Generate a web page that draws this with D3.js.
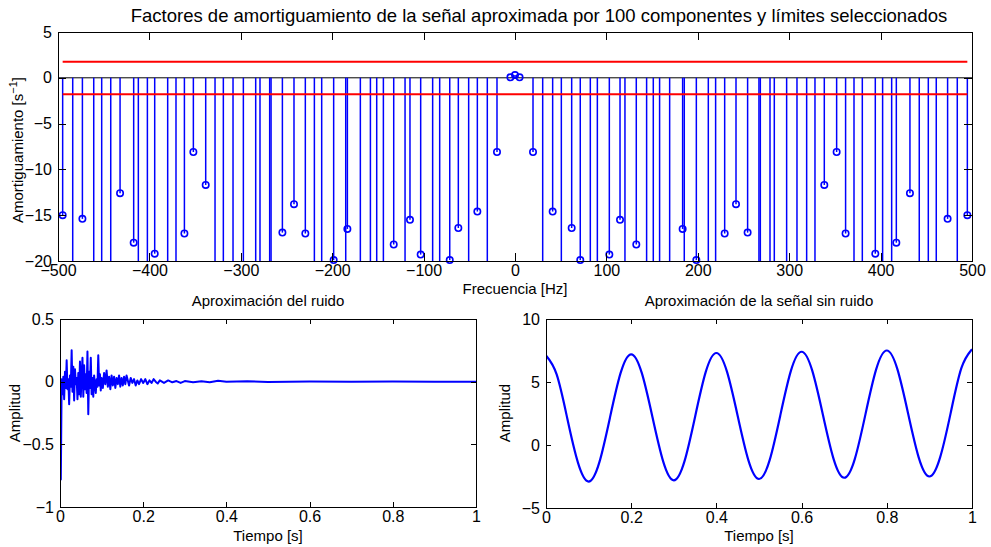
<!DOCTYPE html>
<html>
<head>
<meta charset="utf-8">
<style>
body { margin: 0; background: #fff; }
svg text { font-family: "Liberation Sans", Arial, sans-serif; fill: #000; }
</style>
</head>
<body>
<script src="https://cdn.jsdelivr.net/npm/d3@7"></script>
<svg id="fig" width="991" height="547"></svg>
<script>
// frequencies of the 99 components [Hz]
var freqs = [-494.9, -483.9, -473.3, -460.9, -452.2, -442.3, -432.1, -417.2, -412.1, -402.2,
  -394.2, -380.0, -370.9, -361.7, -351.9, -338.4, -328.2, -319.1, -308.5, -297.2,
  -283.7, -279.0, -268.4, -266.9, -254.5, -241.8, -229.4, -219.5, -211.5, -198.4,
  -185.2, -183.4, -169.2, -158.2, -151.3, -144.0, -132.7, -120.3, -114.9, -103.2,
  -90.1, -82.4, -71.4, -62.0, -50.7, -41.2, -30.3, -19.7, -5.0,
  0,
  5.0, 19.7, 30.3, 41.2, 50.7, 62.0, 71.4, 82.4, 90.1,
  103.2, 114.9, 120.3, 132.7, 144.0, 151.3, 158.2, 169.2, 183.4, 185.2,
  198.4, 211.5, 219.5, 229.4, 241.8, 254.5, 266.9, 268.4, 279.0, 283.7,
  297.2, 308.5, 319.1, 328.2, 338.4, 351.9, 361.7, 370.9, 380.0, 394.2,
  402.2, 412.1, 417.2, 432.1, 442.3, 452.2, 460.9, 473.3, 483.9, 494.9];
// damping factors [1/s]
var damps = [-15.0, -38, -15.4, -45, -31, -52, -12.6, -18.0, -36, -60,
  -19.2, -29, -47, -17.0, -8.1, -11.7, -33, -55, -41, -27,
  -62, -35, -44, -58, -16.9, -13.8, -17.0, -30, -49, -19.9,
  -37, -16.5, -26, -53, -40, -32, -18.2, -46, -15.5, -19.3,
  -34, -57, -19.9, -16.4, -43, -14.6, -28, -8.1, 0.05,
  0.3,
  0.05, -8.1, -28, -14.6, -43, -16.4, -19.9, -57, -34,
  -19.3, -15.5, -46, -18.2, -32, -40, -53, -26, -16.5, -37,
  -19.9, -49, -30, -17.0, -13.8, -16.9, -58, -44, -35, -62,
  -27, -41, -55, -33, -11.7, -8.1, -17.0, -47, -29, -19.2,
  -60, -36, -18.0, -12.6, -52, -31, -45, -15.4, -38, -15.0];
var limits = [1.75, -1.8];

var fTicks = [-500, -400, -300, -200, -100, 0, 100, 200, 300, 400, 500];
var dTicks = [-20, -15, -10, -5, 0, 5];
var tTicks = [0, 0.2, 0.4, 0.6, 0.8, 1];
var nTicks = [-1, -0.5, 0, 0.5];
var sTicks = [-5, 0, 5, 10];

// noise approximation (time [s], amplitude)
var noiseT = [0, 0.002, 0.004, 0.006, 0.008, 0.010, 0.012, 0.014, 0.016, 0.018,
  0.020, 0.022, 0.024, 0.026, 0.028, 0.030, 0.032, 0.034, 0.036, 0.038,
  0.040, 0.042, 0.044, 0.046, 0.048, 0.050, 0.052, 0.054, 0.056, 0.058,
  0.060, 0.062, 0.064, 0.066, 0.068, 0.070, 0.072, 0.074, 0.076, 0.078,
  0.080, 0.082, 0.084, 0.086, 0.088, 0.090, 0.092, 0.094, 0.096, 0.098,
  0.100, 0.103, 0.106, 0.109, 0.112, 0.115, 0.118, 0.121, 0.124, 0.127,
  0.130, 0.133, 0.136, 0.139, 0.142, 0.145, 0.148, 0.151, 0.154, 0.157,
  0.160, 0.163, 0.166, 0.170, 0.174, 0.178, 0.182, 0.186, 0.190, 0.195,
  0.200, 0.205, 0.210, 0.215, 0.220, 0.225, 0.230, 0.235, 0.240, 0.250,
  0.260, 0.270, 0.280, 0.290, 0.300, 0.320, 0.340, 0.360, 0.380, 0.400,
  0.450, 0.500, 0.600, 0.700, 0.800, 0.900, 1.000];
var noiseV = [0.03, -0.78, 0.02, -0.10, 0.04, -0.14, 0.08, -0.05, 0.17, -0.06,
  0.02, -0.18, 0.05, -0.04, 0.25, -0.08, 0.12, -0.15, 0.10, -0.02,
  0.03, -0.14, 0.07, -0.10, 0.16, -0.12, 0.05, 0.19, -0.12, 0.13,
  -0.06, 0.06, -0.09, 0.24, -0.26, 0.08, -0.05, 0.19, -0.10, 0.03,
  -0.12, 0.05, -0.03, -0.09, 0.02, -0.04, 0.21, -0.03, 0.06, -0.07,
  0.03, -0.05, 0.07, -0.02, 0.09, -0.04, 0.04, -0.06, 0.05, -0.03,
  0.04, -0.05, 0.03, -0.02, 0.05, -0.04, 0.03, -0.03, 0.04, -0.02,
  0.05, 0.01, -0.03, 0.03, -0.01, 0.02, -0.03, 0.01, -0.02, 0.02,
  -0.01, 0.02, -0.02, 0.01, -0.01, 0.02, 0.0, -0.015, 0.01, -0.01,
  0.01, -0.005, 0.005, -0.01, 0.005, -0.005, 0.003, -0.004, 0.008, 0.0,
  0.003, -0.002, 0.002, 0.0, 0.001, 0.0, 0.0];

// clean signal approximation, sampled every 0.025 s
var sigT = [0, 0.025, 0.05, 0.075, 0.1, 0.125, 0.15, 0.175, 0.2, 0.225,
  0.25, 0.275, 0.3, 0.325, 0.35, 0.375, 0.4, 0.425, 0.45, 0.475,
  0.5, 0.525, 0.55, 0.575, 0.6, 0.625, 0.65, 0.675, 0.7, 0.725,
  0.75, 0.775, 0.8, 0.825, 0.85, 0.875, 0.9, 0.925, 0.95, 0.975, 1.0];
var sigV = [7.1, 5.6, 2.1, -1.4, -2.9, -1.4, 2.15, 5.7, 7.2, 5.7,
  2.2, -1.3, -2.8, -1.3, 2.25, 5.8, 7.3, 5.8, 2.3, -1.2,
  -2.7, -1.2, 2.35, 5.9, 7.4, 5.9, 2.4, -1.1, -2.6, -1.1,
  2.45, 6.0, 7.5, 6.0, 2.5, -1.0, -2.5, -1.0, 2.55, 6.1, 7.6];

var svg = d3.select("#fig");
var fmt = d3.format("");
var blue = "#0000ff";

function frame(x, y, xt, yt, tl) {
  var g = svg.append("g");
  var xr = x.range(), yr = y.range();
  g.append("g").attr("transform", "translate(0," + yr[0] + ")")
    .call(d3.axisBottom(x).tickValues(xt).tickSize(-tl).tickSizeOuter(0).tickPadding(4).tickFormat(fmt));
  g.append("g").attr("transform", "translate(0," + yr[1] + ")")
    .call(d3.axisTop(x).tickValues(xt).tickSize(-tl).tickSizeOuter(0).tickFormat(""));
  g.append("g").attr("transform", "translate(" + xr[0] + ",0)")
    .call(d3.axisLeft(y).tickValues(yt).tickSize(-tl).tickSizeOuter(0).tickPadding(6).tickFormat(fmt));
  g.append("g").attr("transform", "translate(" + xr[1] + ",0)")
    .call(d3.axisRight(y).tickValues(yt).tickSize(-tl).tickSizeOuter(0).tickFormat(""));
  g.selectAll("text").style("font-size", "16px");
  g.selectAll("path, line").attr("stroke", "#000").attr("shape-rendering", "crispEdges");
  return g;
}

function clip(id, x, y) {
  svg.append("clipPath").attr("id", id).append("rect")
    .attr("x", x.range()[0]).attr("y", y.range()[1])
    .attr("width", x.range()[1] - x.range()[0])
    .attr("height", y.range()[0] - y.range()[1]);
}

// ---- top: damping factors (stem plot)
var xF = d3.scaleLinear().domain([-500, 500]).range([58, 972]);
var yF = d3.scaleLinear().domain([-20, 5]).range([261, 32]);
clip("cTop", xF, yF);

var stems = svg.append("g").attr("clip-path", "url(#cTop)");
stems.append("line")
  .attr("x1", xF.range()[0]).attr("x2", xF.range()[1])
  .attr("y1", yF(0)).attr("y2", yF(0))
  .attr("stroke", "#000").attr("stroke-width", 1);
stems.selectAll("line.stem").data(freqs).enter().append("line")
  .attr("class", "stem")
  .attr("x1", function(d) { return xF(d); }).attr("x2", function(d) { return xF(d); })
  .attr("y1", yF(0)).attr("y2", function(d, i) { return yF(damps[i]); })
  .attr("stroke", blue).attr("stroke-width", 1.5);

var idx = d3.range(freqs.length).filter(function(i) { return damps[i] >= -20; });
svg.append("g").selectAll("circle").data(idx).enter().append("circle")
  .attr("cx", function(i) { return xF(freqs[i]); })
  .attr("cy", function(i) { return yF(damps[i]); })
  .attr("r", 3.2)
  .attr("fill", "none").attr("stroke", blue).attr("stroke-width", 1.6);

svg.append("g").selectAll("line").data(limits).enter().append("line")
  .attr("x1", xF(d3.min(freqs))).attr("x2", xF(d3.max(freqs)))
  .attr("y1", function(d) { return yF(d); }).attr("y2", function(d) { return yF(d); })
  .attr("stroke", "#ff0000").attr("stroke-width", 2);

frame(xF, yF, fTicks, dTicks, 8);

svg.append("text").attr("x", 539).attr("y", 22).attr("text-anchor", "middle")
  .style("font-size", "18.5px")
  .text("Factores de amortiguamiento de la señal aproximada por 100 componentes y límites seleccionados");
svg.append("text").attr("x", 515).attr("y", 294).attr("text-anchor", "middle")
  .style("font-size", "15px").text("Frecuencia [Hz]");
var yl = svg.append("text").attr("transform", "translate(23,150) rotate(-90)")
  .attr("text-anchor", "middle").style("font-size", "15px");
yl.append("tspan").text("Amortiguamiento [s");
yl.append("tspan").attr("dy", -6).style("font-size", "11px").text("−1");
yl.append("tspan").attr("dy", 6).text("]");

// ---- bottom left: noise
var xN = d3.scaleLinear().domain([0, 1]).range([60, 476]);
var yN = d3.scaleLinear().domain([-1, 0.5]).range([507, 319]);
clip("cNoise", xN, yN);
svg.append("path").datum(d3.range(noiseT.length))
  .attr("clip-path", "url(#cNoise)")
  .attr("d", d3.line().x(function(i) { return xN(noiseT[i]); }).y(function(i) { return yN(noiseV[i]); }))
  .attr("fill", "none").attr("stroke", blue).attr("stroke-width", 2).attr("stroke-linejoin", "round");
frame(xN, yN, tTicks, nTicks, 5);

// ---- bottom right: clean signal
var xS = d3.scaleLinear().domain([0, 1]).range([546, 972]);
var yS = d3.scaleLinear().domain([-5, 10]).range([508, 319]);
clip("cSig", xS, yS);
svg.append("path").datum(d3.range(sigT.length))
  .attr("clip-path", "url(#cSig)")
  .attr("d", d3.line().curve(d3.curveNatural).x(function(i) { return xS(sigT[i]); }).y(function(i) { return yS(sigV[i]); }))
  .attr("fill", "none").attr("stroke", blue).attr("stroke-width", 2.2);
frame(xS, yS, tTicks, sTicks, 5);

// bottom titles and labels
var subs = [
  { cx: 268, title: "Aproximación del ruido", ly: 20 },
  { cx: 759, title: "Aproximación de la señal sin ruido", ly: 510 }
];
subs.forEach(function(s) {
  svg.append("text").attr("x", s.cx).attr("y", 306).attr("text-anchor", "middle")
    .style("font-size", "15px").text(s.title);
  svg.append("text").attr("x", s.cx).attr("y", 541).attr("text-anchor", "middle")
    .style("font-size", "15px").text("Tiempo [s]");
  svg.append("text").attr("transform", "translate(" + s.ly + ",413) rotate(-90)")
    .attr("text-anchor", "middle").style("font-size", "15px").text("Amplitud");
});
</script>
</body>
</html>
